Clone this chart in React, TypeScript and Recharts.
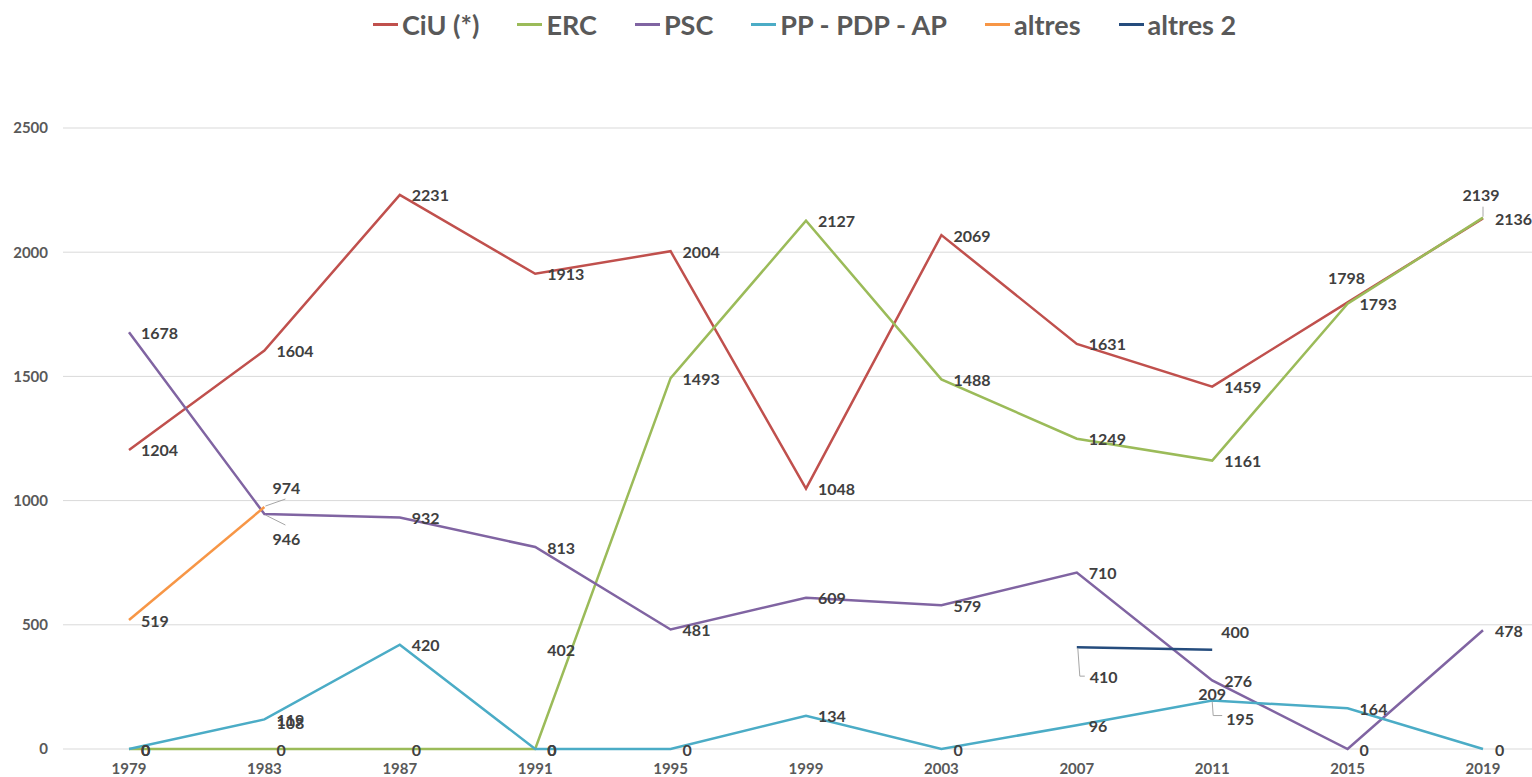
import { CartesianGrid, LabelList, Line, LineChart, XAxis, YAxis } from 'recharts';

const years = ['1979', '1983', '1987', '1991', '1995', '1999', '2003', '2007', '2011', '2015', '2019'];
const ciu = [1204, 1604, 2231, 1913, 2004, 1048, 2069, 1631, 1459, 1798, 2136];
const erc = [0, 0, 0, 0, 1493, 2127, 1488, 1249, 1161, 1793, 2139];
const psc = [1678, 946, 932, 813, 481, 609, 579, 710, 276, 0, 478];
const pp = [0, 119, 420, 0, 0, 134, 0, 96, 195, 164, 0];
const altres = [519, 974, null, null, null, null, null, null, null, null, null];
const altres2 = [null, null, null, null, null, null, null, 410, 400, null, null];
// stray data labels left on the original chart, with no line drawn
const stray = [null, 108, null, 402, null, null, null, null, 209, null, null];

const yTicks = [0, 500, 1000, 1500, 2000, 2500];

const series = [
  { key: 'ciu', name: 'CiU (*)', color: '#C0504D' },
  { key: 'erc', name: 'ERC', color: '#9BBB59' },
  { key: 'psc', name: 'PSC', color: '#8064A2' },
  { key: 'pp', name: 'PP - PDP - AP', color: '#4BACC6' },
  { key: 'altres', name: 'altres', color: '#F79646' },
  { key: 'altres2', name: 'altres 2', color: '#254C7D' },
];

const data = years.map((year, i) => ({
  year,
  ciu: ciu[i],
  erc: erc[i],
  psc: psc[i],
  pp: pp[i],
  altres: altres[i],
  altres2: altres2[i],
  stray: stray[i],
}));

// label placement overrides, default is to the right of the point
const placement: Record<string, string> = {
  'ciu-9': 'above',
  'erc-10': 'aboveLeader',
  'psc-1': 'belowSlant',
  'altres-1': 'aboveSlant',
  'pp-8': 'belowDrop',
  'altres2-7': 'belowDropLong',
  'altres2-8': 'aboveRight',
  'stray-8': 'center',
};

const LABEL_COLOR = '#404040';
const LEADER = '#A6A6A6';
const FONT = 'Lato, "Open Sans", sans-serif';

function makeLabel(key: string) {
  return (props: any) => {
    const { x, y, value, index } = props;
    if (value == null || x == null || y == null) return null;
    const mode = placement[`${key}-${index}`] || 'right';
    let tx = x + 12;
    let ty = y;
    let anchor: 'start' | 'middle' = 'start';
    let leader: string | null = null;
    if (mode === 'above') {
      tx = x - 1;
      ty = y - 25;
      anchor = 'middle';
    } else if (mode === 'aboveLeader') {
      tx = x - 2;
      ty = y - 23;
      anchor = 'middle';
      leader = `M${x},${y - 11}L${x},${y - 1}`;
    } else if (mode === 'belowSlant') {
      tx = x + 8;
      ty = y + 24;
      leader = `M${x + 1},${y + 1}L${x + 21},${y + 11}`;
    } else if (mode === 'aboveSlant') {
      tx = x + 8;
      ty = y - 20;
      leader = `M${x + 1},${y - 1}L${x + 21},${y - 8}`;
    } else if (mode === 'belowDrop') {
      tx = x + 14;
      ty = y + 18;
      leader = `M${x},${y + 1}L${x + 1},${y + 15}L${x + 10},${y + 15}`;
    } else if (mode === 'belowDropLong') {
      tx = x + 13;
      ty = y + 29;
      leader = `M${x + 1},${y + 1}L${x + 3},${y + 29}L${x + 8},${y + 29}`;
    } else if (mode === 'aboveRight') {
      tx = x + 9;
      ty = y - 18;
    } else if (mode === 'center') {
      tx = x;
      ty = y - 4;
      anchor = 'middle';
    }
    return (
      <g>
        {leader && <path d={leader} stroke={LEADER} strokeWidth={1} fill="none" />}
        <text
          x={tx}
          y={ty}
          textAnchor={anchor}
          dominantBaseline="central"
          fill={LABEL_COLOR}
          fontSize={16}
          fontWeight={700}
          fontFamily={FONT}
        >
          {value}
        </text>
      </g>
    );
  };
}

function ChartLegend() {
  return (
    <div
      style={{
        position: 'absolute',
        top: 8,
        left: 373,
        display: 'flex',
        alignItems: 'center',
        gap: 38,
        fontFamily: FONT,
        fontWeight: 700,
        fontSize: 27,
        color: '#595959',
        whiteSpace: 'nowrap',
      }}
    >
      {series.map((s) => (
        <div key={s.key} style={{ display: 'flex', alignItems: 'center' }}>
          <span style={{ display: 'inline-block', width: 25, height: 3, background: s.color, marginRight: 4 }} />
          <span>{s.name}</span>
        </div>
      ))}
    </div>
  );
}

export default function App() {
  return (
    <div style={{ position: 'absolute', left: 0, top: 0, width: 1532, height: 777, background: '#fff' }}>
      <ChartLegend />
      <LineChart width={1532} height={777} data={data} margin={{ top: 128, right: 0, bottom: 0, left: 0 }}>
        <CartesianGrid vertical={false} stroke="#D9D9D9" strokeWidth={1} />
        <XAxis
          dataKey="year"
          axisLine={false}
          tickLine={false}
          tickSize={0}
          tickMargin={14}
          height={28}
          padding={{ left: 66, right: 49 }}
          tick={{ fill: '#595959', fontSize: 15, fontWeight: 700, fontFamily: FONT }}
          interval={0}
        />
        <YAxis
          domain={[0, 2500]}
          ticks={yTicks}
          axisLine={false}
          tickLine={false}
          tickSize={0}
          tickMargin={15}
          width={63}
          tick={{ fill: '#595959', fontSize: 15, fontWeight: 700, fontFamily: FONT }}
        />
        {series.map((s) => (
          <Line
            key={s.key}
            type="linear"
            dataKey={s.key}
            name={s.name}
            stroke={s.color}
            strokeWidth={2.5}
            dot={false}
            activeDot={false}
            isAnimationActive={false}
          >
            <LabelList dataKey={s.key} content={makeLabel(s.key)} />
          </Line>
        ))}
        <Line
          type="linear"
          dataKey="stray"
          stroke="none"
          dot={false}
          activeDot={false}
          legendType="none"
          isAnimationActive={false}
        >
          <LabelList dataKey="stray" content={makeLabel('stray')} />
        </Line>
      </LineChart>
    </div>
  );
}
